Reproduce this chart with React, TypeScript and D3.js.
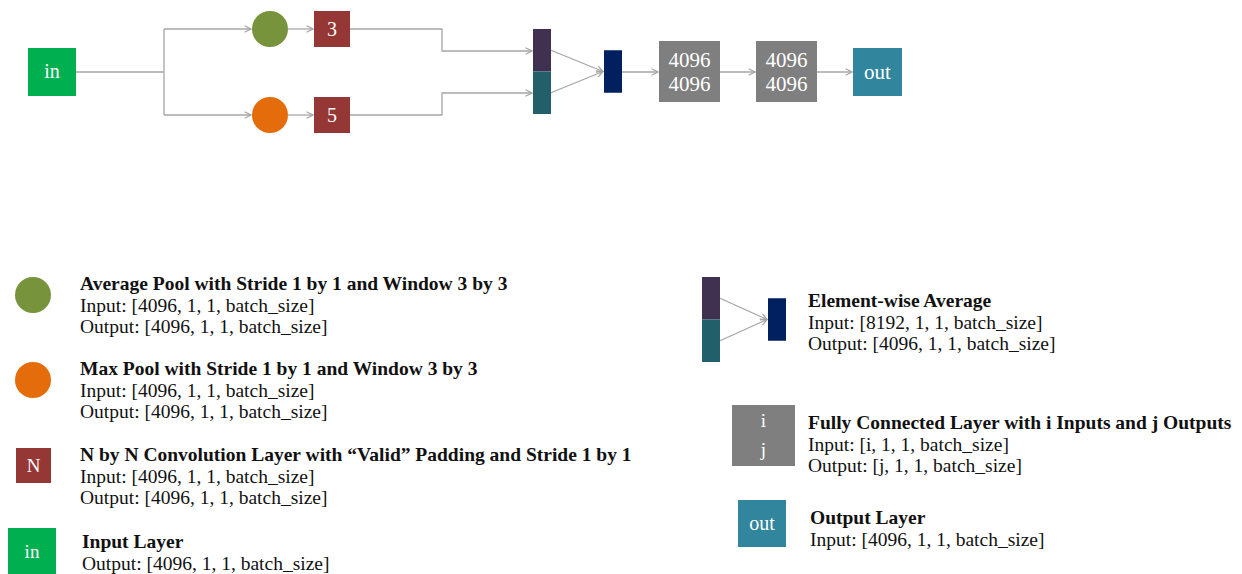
import React, {FC} from 'react';
import * as d3 from 'd3';

// labels of the network
const convSizes = ['3', '5'];
const fcLabels = [['4096', '4096'], ['4096', '4096']];
const inLabel = 'in';
const outLabel = 'out';

// legend texts
const legendTitles = [
  'Average Pool with Stride 1 by 1 and Window 3 by 3',
  'Max Pool with Stride 1 by 1 and Window 3 by 3',
  'N by N Convolution Layer with \u201CValid\u201D Padding and Stride 1 by 1',
  'Input Layer',
  'Element-wise Average',
  'Fully Connected Layer with i Inputs and j Outputs',
  'Output Layer',
];
const legendLines = [
  ['Input: [4096, 1, 1, batch_size]', 'Output: [4096, 1, 1, batch_size]'],
  ['Input: [4096, 1, 1, batch_size]', 'Output: [4096, 1, 1, batch_size]'],
  ['Input: [4096, 1, 1, batch_size]', 'Output: [4096, 1, 1, batch_size]'],
  ['Output: [4096, 1, 1, batch_size]'],
  ['Input: [8192, 1, 1, batch_size]', 'Output: [4096, 1, 1, batch_size]'],
  ['Input: [i, 1, 1, batch_size]', 'Output: [j, 1, 1, batch_size]'],
  ['Input: [4096, 1, 1, batch_size]'],
];

const C = {
  input: '#00b050',
  avg: '#77933c',
  max: '#e46c0a',
  conv: '#953735',
  purple: '#403151',
  teal: '#215f6b',
  navy: '#002060',
  fc: '#7f7f7f',
  out: '#31859c',
  line: '#a6a6a6',
};

const FONT = '"Liberation Serif", "DejaVu Serif", serif';
const LEG = 19.5;

const line = d3.line<[number, number]>();

const Arrow: FC<{pts: [number, number][]; head?: boolean}> = ({pts, head = true}) => (
  <path
    d={line(pts) || ''}
    fill="none"
    stroke={C.line}
    strokeWidth={1.3}
    markerEnd={head ? 'url(#arr)' : undefined}
  />
);

const Merge: FC<{x: number; y: number; h: number; gap: number}> = ({x, y, h, gap}) => {
  // stacked bar (two halves) + element-wise average box
  const half = h / 2;
  const ax = x + 18 + gap;
  return (
    <g>
      <rect x={x} y={y} width={18} height={half} fill={C.purple} />
      <rect x={x} y={y + half} width={18} height={half} fill={C.teal} />
      <Arrow pts={[[x + 18, y + half / 2], [ax - 1, y + half]]} />
      <Arrow pts={[[x + 18, y + half * 1.5], [ax - 1, y + half]]} />
      <rect x={ax} y={y + half / 2} width={18} height={half} fill={C.navy} />
    </g>
  );
};

const Label: FC<{x: number; y: number; size: number; children: React.ReactNode}> = ({
  x,
  y,
  size,
  children,
}) => (
  <text x={x} y={y} textAnchor="middle" fill="#fff" fontFamily={FONT} fontSize={size}>
    {children}
  </text>
);

const App: FC = () => {
  const legend = (i: number, x: number, y: number) => (
    <g key={i} fontFamily={FONT} fill="#111">
      <text x={x} y={y} fontWeight="bold" fontSize={LEG}>
        {legendTitles[i]}
      </text>
      {legendLines[i].map((t, k) => (
        <text key={k} x={x} y={y + 21.5 * (k + 1)} fontSize={LEG}>
          {t}
        </text>
      ))}
    </g>
  );

  return (
    <div style={{position: 'absolute', left: 0, top: 0}}>
      <svg width={1242} height={574} style={{display: 'block', background: '#fff'}}>
        <defs>
          <marker
            id="arr"
            viewBox="0 0 10 10"
            refX={9}
            refY={5}
            markerWidth={8}
            markerHeight={8}
            markerUnits="userSpaceOnUse"
            orient="auto"
          >
            <path d="M1,1 L9,5 L1,9" fill="none" stroke={C.line} strokeWidth={1.6} />
          </marker>
        </defs>

        {/* ---------- network ---------- */}
        <Arrow pts={[[76, 72], [164, 72]]} head={false} />
        <Arrow pts={[[164, 29], [164, 115]]} head={false} />
        <Arrow pts={[[164, 29], [251, 29]]} />
        <Arrow pts={[[164, 115], [251, 115]]} />
        <Arrow pts={[[288, 29], [313, 29]]} />
        <Arrow pts={[[288, 115], [313, 115]]} />
        <Arrow pts={[[350, 29], [442, 29], [442, 51], [532, 51]]} />
        <Arrow pts={[[350, 115], [442, 115], [442, 93], [532, 93]]} />
        <Arrow pts={[[622, 72], [658, 72]]} />
        <Arrow pts={[[720, 72], [755, 72]]} />
        <Arrow pts={[[817, 72], [852, 72]]} />

        <rect x={28} y={48} width={48} height={48} fill={C.input} />
        <Label x={52} y={78} size={20}>{inLabel}</Label>

        <circle cx={270} cy={29} r={18} fill={C.avg} />
        <circle cx={270} cy={115} r={18} fill={C.max} />

        {convSizes.map((s, i) => (
          <g key={s}>
            <rect x={314} y={11 + i * 86} width={36} height={36} fill={C.conv} />
            <Label x={332} y={36 + i * 86} size={20}>{s}</Label>
          </g>
        ))}

        <Merge x={533} y={29} h={85} gap={53} />

        {fcLabels.map((lab, i) => (
          <g key={i}>
            <rect x={659 + i * 97} y={41} width={61} height={61} fill={C.fc} />
            {lab.map((t, k) => (
              <Label key={k} x={689.5 + i * 97} y={67 + k * 24} size={21}>
                {t}
              </Label>
            ))}
          </g>
        ))}

        <rect x={853} y={48} width={49} height={48} fill={C.out} />
        <Label x={877.5} y={79} size={21}>{outLabel}</Label>

        {/* ---------- legend, left ---------- */}
        <circle cx={33} cy={295} r={18} fill={C.avg} />
        {legend(0, 80, 290)}
        <circle cx={33} cy={380} r={18} fill={C.max} />
        {legend(1, 80, 375)}
        <rect x={16} y={448} width={35} height={35} fill={C.conv} />
        <Label x={33.5} y={472} size={19}>N</Label>
        {legend(2, 80, 461)}
        <rect x={8} y={528} width={48} height={48} fill={C.input} />
        <Label x={32} y={558} size={19}>{inLabel}</Label>
        {legend(3, 82, 548)}

        {/* ---------- legend, right ---------- */}
        <Merge x={702} y={277} h={85} gap={48} />
        {legend(4, 808, 307)}
        <rect x={732} y={405} width={63} height={61} fill={C.fc} />
        <Label x={763.5} y={427} size={19}>i</Label>
        <Label x={763.5} y={456} size={19}>j</Label>
        {legend(5, 808, 429)}
        <rect x={738} y={500} width={48} height={47} fill={C.out} />
        <Label x={762} y={530} size={20}>{outLabel}</Label>
        {legend(6, 810, 524)}
      </svg>
    </div>
  );
};

export default App;
